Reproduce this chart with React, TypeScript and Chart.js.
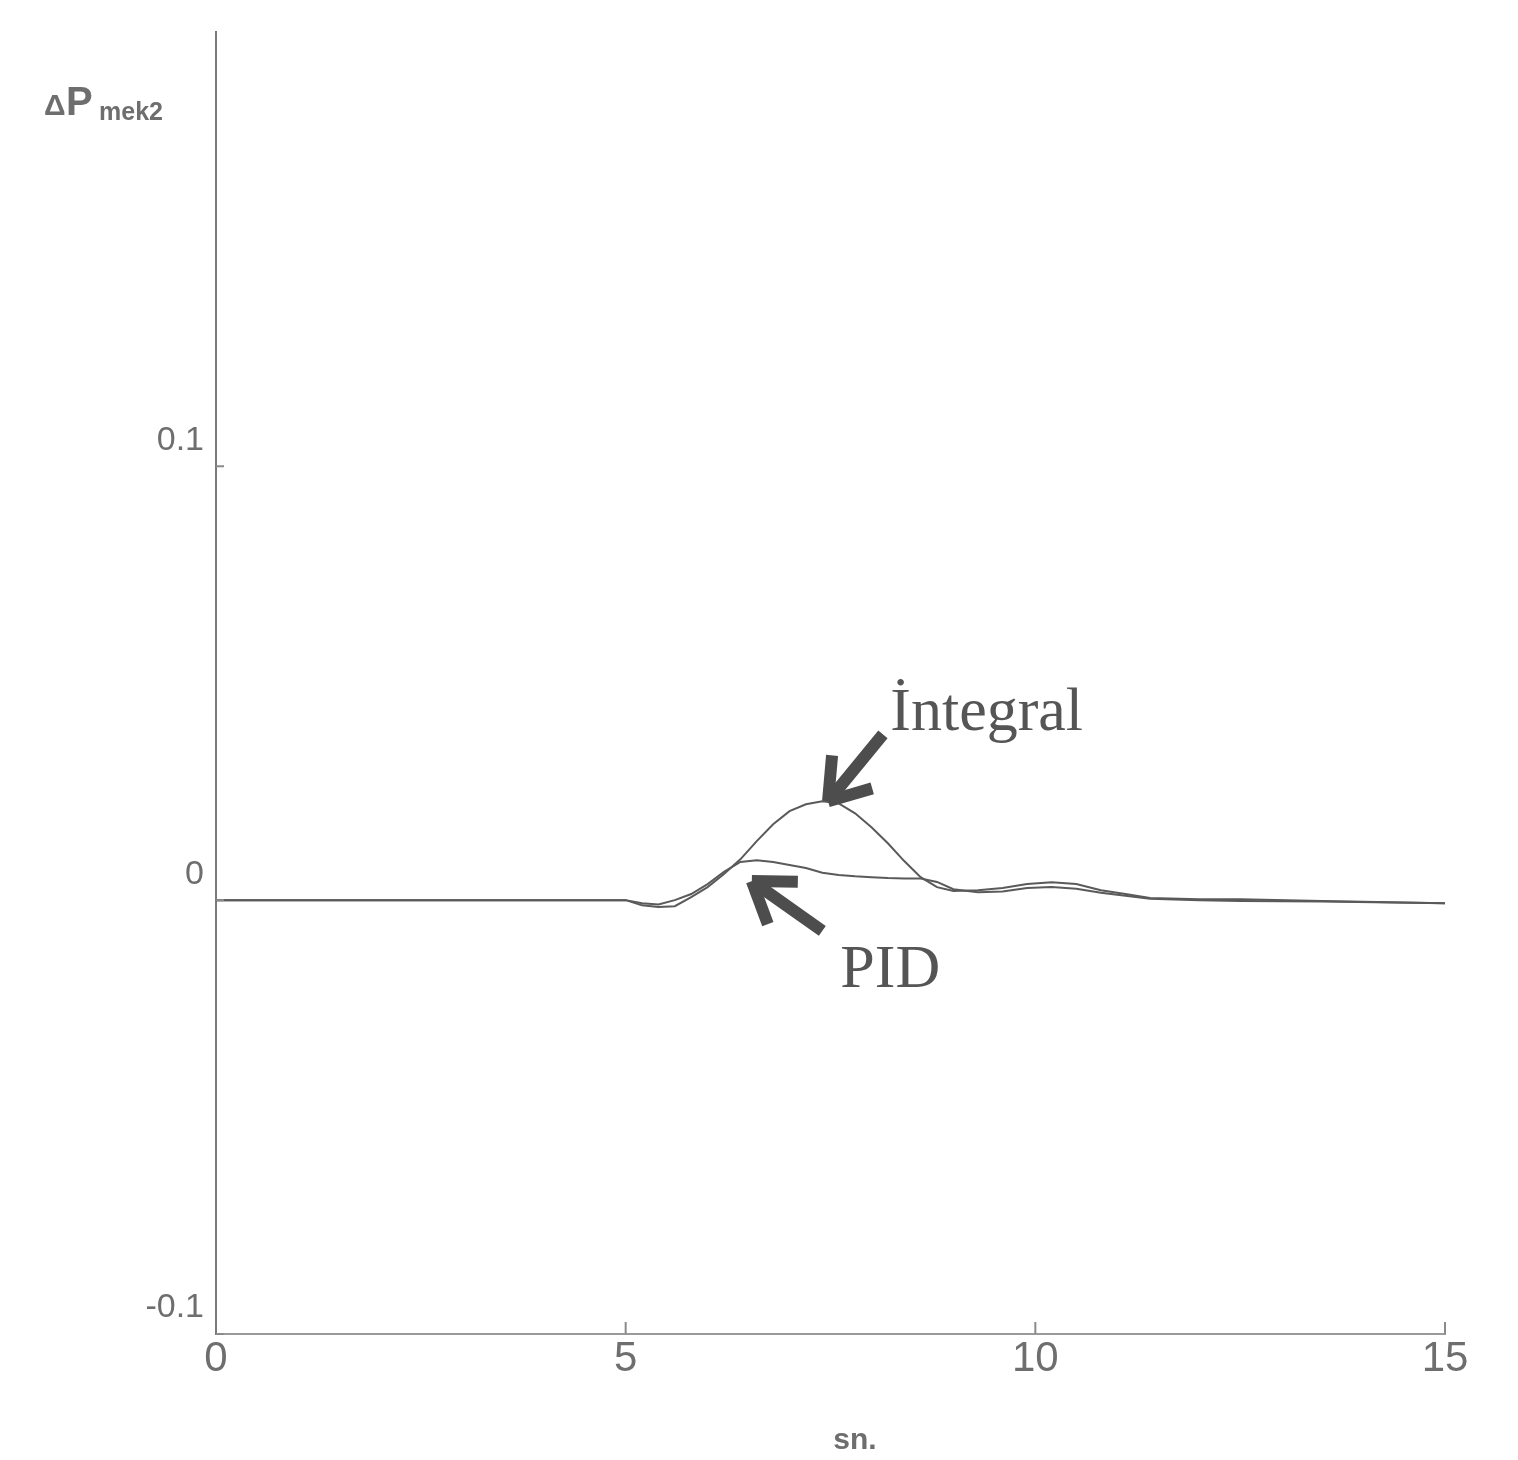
import { useEffect, useRef } from "react";
import { Chart, registerables } from "chart.js";

Chart.register(...registerables);

// time in seconds
const timeSec = [0, 5.0, 5.2, 5.4, 5.6, 5.8, 6.0, 6.2, 6.4, 6.6, 6.8, 7.0, 7.2, 7.4, 7.6, 7.8, 8.0, 8.2, 8.4, 8.6, 8.8, 9.0, 9.3, 9.6, 9.9, 10.2, 10.5, 10.8, 11.1, 11.4, 12.0, 12.5, 13.5, 15.0];

const integralValues = [0, 0, -0.0012, -0.0016, -0.0014, 0.0007, 0.003, 0.006, 0.0094, 0.0136, 0.0175, 0.0205, 0.0221, 0.0228, 0.0223, 0.02, 0.0168, 0.0131, 0.009, 0.0053, 0.003, 0.0021, 0.0023, 0.0028, 0.0037, 0.0041, 0.0037, 0.0023, 0.0014, 0.0005, 0.0002, 0.0002, -0.0002, -0.0007];

const pidValues = [0, 0, -0.0007, -0.001, 0, 0.0014, 0.0037, 0.0065, 0.0088, 0.0092, 0.0088, 0.0081, 0.0074, 0.0063, 0.0058, 0.0055, 0.0053, 0.0051, 0.005, 0.005, 0.0042, 0.0025, 0.0018, 0.002, 0.0028, 0.003, 0.0026, 0.0017, 0.001, 0.0003, 0, -0.0002, -0.0003, -0.0007];

const xTickValues = [0, 5, 10, 15];
const yTickValues = [-0.1, 0, 0.1];
const seriesNames = ["İntegral", "PID"];

// annotation anchors (data coordinates)
const integralLabelAt = [8.23, 0.0393];
const integralArrow = [[8.14, 0.0382], [7.47, 0.0228]];
const pidLabelAt = [7.62, -0.02];
const pidArrow = [[7.4, -0.0071], [6.54, 0.0044]];

const GRAY_TEXT = "#6e6e6e";
const SANS = "'Liberation Sans Narrow', 'Liberation Sans', Arial, sans-serif";

function drawArrow(ctx: CanvasRenderingContext2D, x1: number, y1: number, x2: number, y2: number) {
  const back = Math.atan2(y1 - y2, x1 - x2);
  ctx.save();
  ctx.strokeStyle = "#4d4d4d";
  ctx.lineWidth = 12;
  ctx.lineCap = "butt";
  ctx.lineJoin = "miter";
  ctx.beginPath();
  ctx.moveTo(x1, y1);
  ctx.lineTo(x2 + 6 * Math.cos(back), y2 + 6 * Math.sin(back));
  ctx.stroke();
  for (const s of [-1, 1]) {
    const a = back + s * 0.6;
    ctx.beginPath();
    ctx.moveTo(x2, y2);
    ctx.lineTo(x2 + 46 * Math.cos(a), y2 + 46 * Math.sin(a));
    ctx.stroke();
  }
  ctx.restore();
}

const decorPlugin = {
  id: "decor",
  afterDraw(chart: any) {
    const ctx: CanvasRenderingContext2D = chart.ctx;
    const { left, top, bottom } = chart.chartArea;
    const xs = chart.scales.x;
    const ys = chart.scales.y;
    ctx.save();
    // inward tick marks
    ctx.strokeStyle = "#8a8a8a";
    ctx.lineWidth = 2;
    xTickValues.forEach((v) => {
      if (v === 0) return;
      const px = xs.getPixelForValue(v);
      ctx.beginPath();
      ctx.moveTo(px, bottom);
      ctx.lineTo(px, bottom - 12);
      ctx.stroke();
    });
    yTickValues.forEach((v) => {
      const py = ys.getPixelForValue(v);
      ctx.beginPath();
      ctx.moveTo(left, py);
      ctx.lineTo(left + 8, py);
      ctx.stroke();
    });

    // y axis title  ΔPmek2
    ctx.fillStyle = GRAY_TEXT;
    ctx.textBaseline = "alphabetic";
    ctx.textAlign = "left";
    ctx.font = `bold 30px ${SANS}`;
    ctx.fillText("Δ", left - 172, top + 83);
    ctx.font = `bold 40px ${SANS}`;
    ctx.fillText("P", left - 150, top + 83);
    ctx.font = `bold 25px ${SANS}`;
    ctx.fillText("mek2", left - 117, top + 88);

    // x axis title
    ctx.font = `bold 30px ${SANS}`;
    ctx.textAlign = "center";
    ctx.fillText("sn.", left + 639, bottom + 115);

    // annotations
    ctx.fillStyle = "#555555";
    ctx.textAlign = "left";
    ctx.font = "62px 'Liberation Serif', 'DejaVu Serif', serif";
    ctx.fillText(seriesNames[0], xs.getPixelForValue(integralLabelAt[0]), ys.getPixelForValue(integralLabelAt[1]));
    ctx.fillText(seriesNames[1], xs.getPixelForValue(pidLabelAt[0]), ys.getPixelForValue(pidLabelAt[1]));

    drawArrow(
      ctx,
      xs.getPixelForValue(integralArrow[0][0]), ys.getPixelForValue(integralArrow[0][1]),
      xs.getPixelForValue(integralArrow[1][0]), ys.getPixelForValue(integralArrow[1][1])
    );
    drawArrow(
      ctx,
      xs.getPixelForValue(pidArrow[0][0]), ys.getPixelForValue(pidArrow[0][1]),
      xs.getPixelForValue(pidArrow[1][0]), ys.getPixelForValue(pidArrow[1][1])
    );
    ctx.restore();
  },
};

export default function App() {
  const canvasRef = useRef<HTMLCanvasElement | null>(null);

  useEffect(() => {
    const canvas = canvasRef.current;
    if (!canvas) return;
    const chart = new Chart(canvas, {
      type: "line",
      data: {
        datasets: [
          {
            label: seriesNames[0],
            data: timeSec.map((t, i) => ({ x: t, y: integralValues[i] })),
            borderColor: "#5a5a5a",
            borderWidth: 2,
            pointRadius: 0,
            tension: 0,
            fill: false,
          },
          {
            label: seriesNames[1],
            data: timeSec.map((t, i) => ({ x: t, y: pidValues[i] })),
            borderColor: "#5a5a5a",
            borderWidth: 2,
            pointRadius: 0,
            tension: 0,
            fill: false,
          },
        ],
      },
      options: {
        responsive: false,
        animation: false,
        devicePixelRatio: 1,
        layout: { padding: { left: 0, top: 30, right: 73, bottom: 0 } },
        plugins: {
          legend: { display: false },
          tooltip: { enabled: false },
          title: { display: false },
        },
        scales: {
          x: {
            type: "linear",
            min: 0,
            max: 15,
            afterBuildTicks: (s: any) => {
              s.ticks = xTickValues.map((v) => ({ value: v }));
            },
            afterFit: (s: any) => {
              s.height = 126;
            },
            grid: { display: false, drawTicks: false },
            border: { display: true, color: "#9a9a9a", width: 2 },
            ticks: {
              color: GRAY_TEXT,
              font: { family: SANS, size: 42 },
              padding: 0,
              maxRotation: 0,
              autoSkip: false,
            },
          },
          y: {
            type: "linear",
            min: -0.1,
            max: 0.2,
            afterBuildTicks: (s: any) => {
              s.ticks = yTickValues.map((v) => ({ value: v }));
            },
            afterFit: (s: any) => {
              s.width = 216;
            },
            grid: { display: false, drawTicks: false },
            border: { display: true, color: "#7a7a7a", width: 2 },
            ticks: {
              color: GRAY_TEXT,
              font: { family: SANS, size: 34 },
              padding: 12,
              labelOffset: -26,
              autoSkip: false,
              callback: (v: any) => String(v),
            },
          },
        },
      },
      plugins: [decorPlugin],
    });
    return () => chart.destroy();
  }, []);

  return (
    <div style={{ position: "absolute", left: 0, top: 0, width: 1518, height: 1460, background: "#ffffff" }}>
      <canvas ref={canvasRef} width={1518} height={1460} />
    </div>
  );
}
